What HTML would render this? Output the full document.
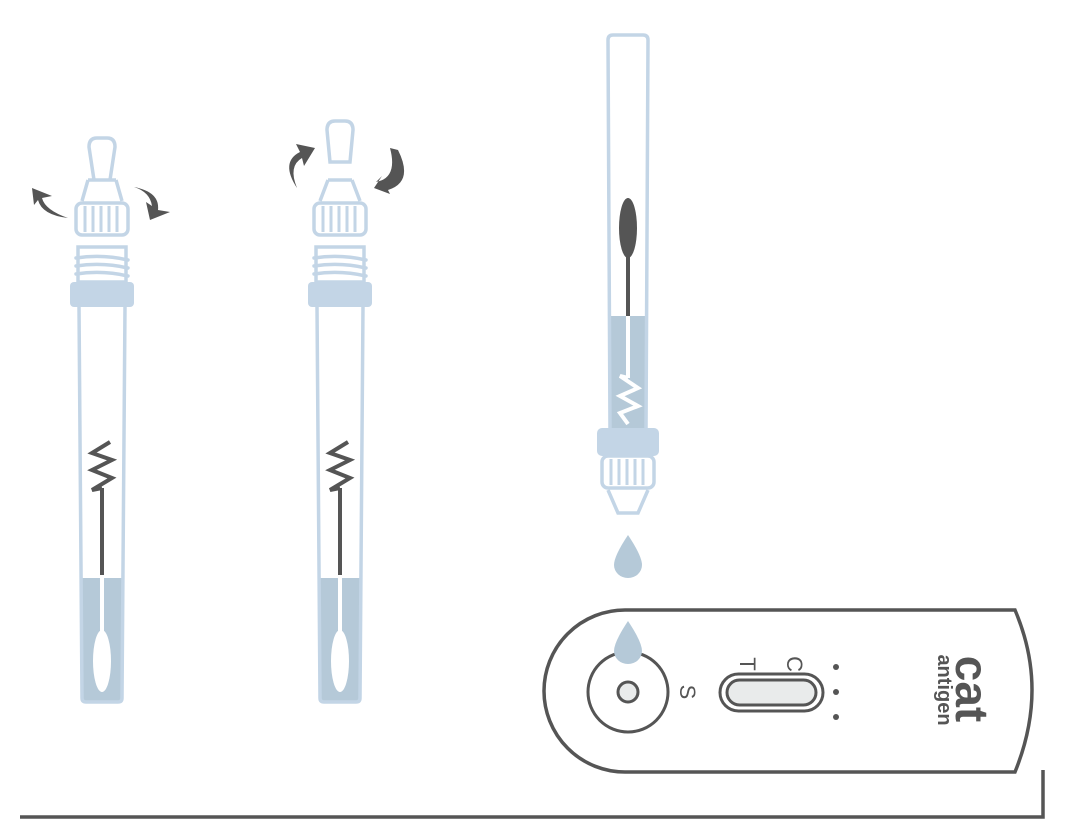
<!DOCTYPE html>
<html><head><style>body{margin:0;background:#fff}svg{display:block}</style></head><body>
<svg width="1065" height="836" viewBox="0 0 1065 836" xmlns="http://www.w3.org/2000/svg" font-family="Liberation Sans, sans-serif">
<defs>
<g id="tube">
  <path d="M-20 578 L-20 700 Q-20 702 -18 702 L18 702 Q20 702 20 700 L20 578 Z" fill="#b5c9d8"/>
  <path d="M-23 306 L-20 698 Q-20 702 -16 702 L16 702 Q20 702 20 698 L23 306" fill="none" stroke="#c3d5e6" stroke-width="3.5"/>
  <rect x="-32" y="282" width="64" height="25" rx="4" fill="#c3d5e6"/>
  <rect x="-24" y="247" width="48" height="35" fill="none" stroke="#c3d5e6" stroke-width="3.5"/>
  <path d="M-26 258 Q0 254 26 260 M-26 266 Q0 262 26 268 M-26 274 Q0 270 26 276" fill="none" stroke="#c3d5e6" stroke-width="3.5" stroke-linecap="round"/>
  <ellipse cx="0" cy="661" rx="9" ry="31" fill="#fff"/>
  <line x1="0" y1="488" x2="0" y2="575" stroke="#555" stroke-width="4"/>
  <line x1="0" y1="575" x2="0" y2="632" stroke="#fff" stroke-width="4"/>
  <polyline points="0,488 -10,490 10,478 -10,470 10,460 -10,453 8,442" fill="none" stroke="#555" stroke-width="4" stroke-linejoin="miter"/>
</g>
<g id="knurl">
  <rect x="-26" y="0" width="52" height="32" rx="6" fill="none" stroke="#c3d5e6" stroke-width="3.5"/>
  <path d="M-17 3V29M-9 3V29M-1 3V29M7 3V29M15 3V29" stroke="#c3d5e6" stroke-width="3"/>
</g>
</defs>

<g transform="translate(102,0)">
  <use href="#tube"/>
  <g transform="translate(0,203)"><use href="#knurl"/></g>
  <path d="M-14 180 L-20 201 M14 180 L20 201 M-14 180 L14 180" stroke="#c3d5e6" stroke-width="3.5" fill="none"/>
  <path d="M-8 180 L-13 147 Q-13 138 -5 138 L5 138 Q13 138 13 147 L8 180" stroke="#c3d5e6" stroke-width="3.5" fill="none"/>
</g>
<path d="M68 218 Q45 210 42 198 L52 196 L32 188 L34 205 L38 200 Q42 215 68 218Z" fill="#555"/>
<path d="M134 187 Q160 192 158 210 L170 212 L150 220 L146 202 L152 206 Q150 192 134 187Z" fill="#555"/>

<g transform="translate(340,0)">
  <use href="#tube"/>
  <g transform="translate(0,203)"><use href="#knurl"/></g>
  <path d="M-12 180 L-20 201 M12 180 L20 201 M-12 180 L12 180" stroke="#c3d5e6" stroke-width="3.5" fill="none"/>
  <path d="M-10 162 L-13 130 Q-13 121 -5 121 L5 121 Q13 121 13 130 L10 162 Z" stroke="#c3d5e6" stroke-width="3.5" fill="none"/>
</g>
<path d="M297 188 Q280 162 300 152 L296 144 L315 148 L304 166 L302 158 Q288 166 297 188Z" fill="#555"/>
<path d="M376 182 Q398 178 390 148 L398 150 Q414 182 388 190 L390 194 L374 188 L382 176Z" fill="#555"/>

<g transform="translate(628,0)">
  <path d="M-19 316 L-19 428 L19 428 L19 316 Z" fill="#b5c9d8"/>
  <path d="M-18 430 L-20 40 Q-20 35 -15 35 L15 35 Q20 35 20 40 L18 430" fill="none" stroke="#c3d5e6" stroke-width="3.5"/>
  <ellipse cx="0" cy="228" rx="9" ry="30" fill="#555"/>
  <line x1="0" y1="255" x2="0" y2="316" stroke="#555" stroke-width="4"/>
  <line x1="0" y1="316" x2="0" y2="378" stroke="#fff" stroke-width="4"/>
  <polyline points="0,378 -8,376 10,388 -8,396 10,406 -8,413 0,424" fill="none" stroke="#fff" stroke-width="4"/>
  <rect x="-31" y="428" width="62" height="28" rx="5" fill="#c3d5e6"/>
  <g transform="translate(0,456)"><use href="#knurl"/></g>
  <path d="M-20 490 L-10 513 L10 513 L20 490" fill="none" stroke="#c3d5e6" stroke-width="3.5"/>
  <path d="M0 535 Q-14 556 -14 565 A14 13 0 0 0 14 565 Q14 556 0 535Z" fill="#b5c9d8"/>
</g>

<path d="M625 610 L1015 610 Q1032 650 1032 690 Q1032 730 1015 772 L625 772 A81 81 0 0 1 625 610Z" fill="#fff" stroke="#555" stroke-width="3.5"/>
<circle cx="628" cy="692" r="40" fill="none" stroke="#555" stroke-width="3"/>
<circle cx="628" cy="692" r="10" fill="#e9ebeb" stroke="#555" stroke-width="3"/>
<path d="M628 621 Q614 642 614 651 A14 13 0 0 0 642 651 Q642 642 628 621Z" fill="#b5c9d8"/>
<rect x="720" y="674" width="103" height="37" rx="18.5" fill="none" stroke="#555" stroke-width="3"/>
<rect x="727" y="680" width="89" height="25" rx="12.5" fill="#e9ebeb" stroke="#555" stroke-width="3"/>
<circle cx="836" cy="667" r="3" fill="#555"/><circle cx="836" cy="692" r="3" fill="#555"/><circle cx="836" cy="717" r="3" fill="#555"/>
<g fill="#555">
<text transform="translate(740,664) rotate(90)" text-anchor="middle" font-size="22">T</text>
<text transform="translate(787,664) rotate(90)" text-anchor="middle" font-size="22">C</text>
<text transform="translate(680,692) rotate(90)" text-anchor="middle" font-size="22">S</text>
<text transform="translate(956,689) rotate(90)" text-anchor="middle" font-size="46" font-weight="bold">cat</text>
<text transform="translate(938,690) rotate(90)" text-anchor="middle" font-size="20" font-weight="bold">antigen</text>
</g>
<path d="M20 817 L1043 817 L1043 770" fill="none" stroke="#555" stroke-width="3.5"/>
</svg>
</body></html>
